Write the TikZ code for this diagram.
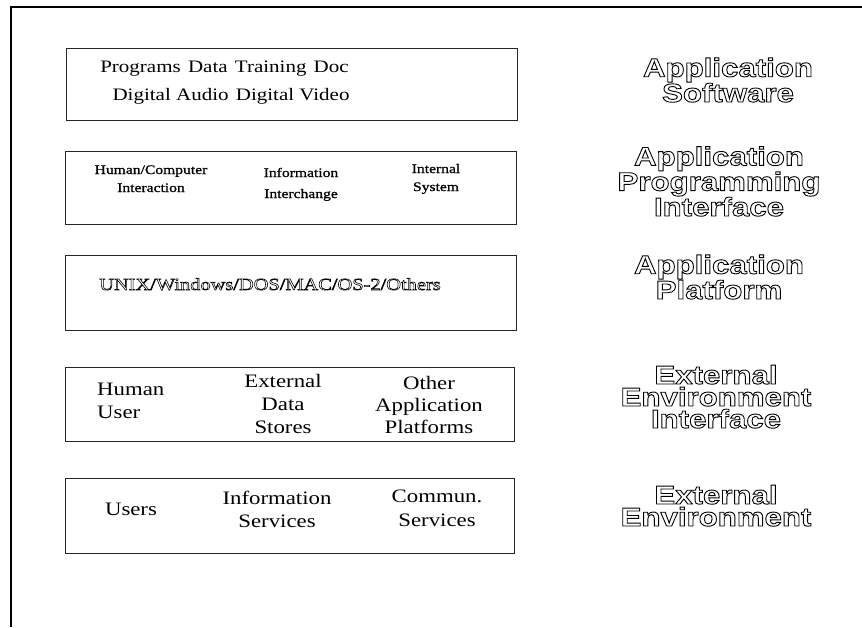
\documentclass[tikz,border=0pt]{standalone}
\usepackage{fontspec}
\setmainfont{Liberation Serif}
\newfontfamily\boxfont[FakeStretch=1.2]{Liberation Serif}
\newfontfamily\apifont[FakeStretch=1.2,FakeBold=1]{Liberation Serif}
\newfontfamily\labfont[FakeStretch=1.2]{Liberation Sans Bold}
% outlined (stroked, unfilled) text
\newcommand\olab[1]{\special{pdf:literal direct 1 Tr 0.9 w}#1\special{pdf:literal direct 0 Tr}}
\newcommand\thinol[1]{\special{pdf:literal direct 1 Tr 0.6 w}#1\special{pdf:literal direct 0 Tr}}
\begin{document}
\begin{tikzpicture}[x=1pt,y=-1pt,
  layerbox/.style={draw=black!85, line width=0.9pt, inner sep=0pt, outer sep=0pt},
  bigtxt/.style={font=\boxfont\fontsize{19}{23}\selectfont, align=center, inner sep=0pt, anchor=base},
  toptxt/.style={font=\boxfont\fontsize{17.5}{28}\selectfont, inner sep=0pt, anchor=base},
  apitxt/.style={font=\apifont\fontsize{13}{18}\selectfont, align=center, inner sep=0pt, anchor=base},
  lab/.style={font=\labfont\fontsize{26}{22}\selectfont, align=center, inner sep=0pt, anchor=base}]
\useasboundingbox (0,0) rectangle (862,627);
% right-hand labels
\node[lab] (l1) at (728,102) {\olab{Application}\\\olab{Software}};
\node[lab] (l2) at (719,216) {\olab{Application}\\\olab{Programming}\\\olab{Interface}};
\node[lab] (l3) at (719,299) {\olab{Application}\\\olab{Platform}};
\node[lab] (l4) at (716,428) {\olab{External}\\\olab{Environment}\\\olab{Interface}};
\node[lab] (l5) at (716,526) {\olab{External}\\\olab{Environment}};
% outer frame
\coordinate (fbl) at (11,627);
\coordinate (ftl) at (11,7);
\coordinate (ftr) at (862,7);
\draw[line width=2.4pt] (fbl) -- (ftl) -- (ftr);
% layer boxes
\node[layerbox, minimum width=451pt, minimum height=72pt] (b1) at (291.5,84) {};
\node[layerbox, minimum width=451pt, minimum height=73pt] (b2) at (290.5,187.5) {};
\node[layerbox, minimum width=451pt, minimum height=75pt] (b3) at (290.5,292.5) {};
\node[layerbox, minimum width=449pt, minimum height=74pt] (b4) at (289.5,404) {};
\node[layerbox, minimum width=449pt, minimum height=75pt] (b5) at (289.5,515.5) {};
% application software
\node[toptxt] (t1a) at (224.5,72) {Programs\hspace{2pt} Data\hspace{2pt} Training\hspace{2pt} Doc};
\node[toptxt] (t1b) at (231,100) {Digital Audio\hspace{2pt} Digital Video};
% platform
\node[toptxt, font=\boxfont\fontsize{17}{20}\selectfont] (t3) at (270,290) {\thinol{UNIX/Windows/DOS/MAC/OS-2/Others}};
% external environment interface
\node[bigtxt, align=left, anchor=base west] (t4a) at (97,418) {Human\\User};
\node[bigtxt] (t4b) at (283,433) {External\\Data\\Stores};
\node[bigtxt, font=\boxfont\fontsize{19}{22}\selectfont] (t4c) at (429,433) {Other\\Application\\Platforms};
% external environment
\node[bigtxt] (t5a) at (131,515) {Users};
\node[bigtxt] (t5b) at (277,527) {Information\\Services};
\node[bigtxt, font=\boxfont\fontsize{19}{24}\selectfont] (t5c) at (437,526) {Commun.\\Services};
% API
\node[apitxt] (t2a) at (151,192) {Human/Computer\\Interaction};
\node[apitxt, font=\apifont\fontsize{13}{21}\selectfont] (t2b) at (301,198) {Information\\Interchange};
\node[apitxt] (t2c) at (436,191) {Internal\\System};
\end{tikzpicture}
\end{document}
